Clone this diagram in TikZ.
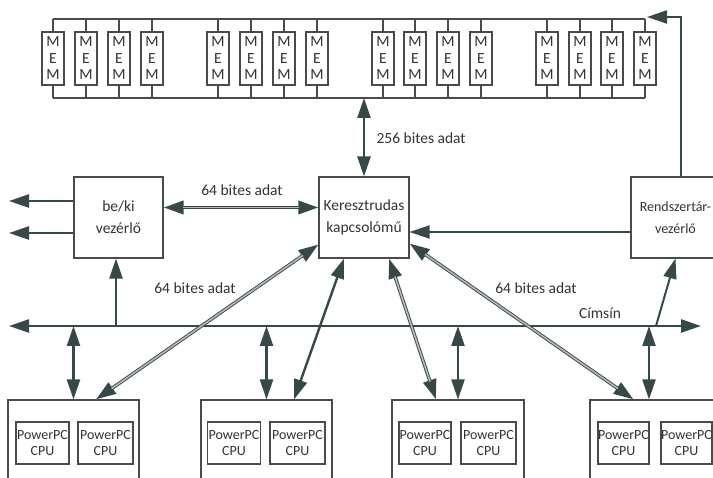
\documentclass[tikz,border=0pt]{standalone}
\usepackage{fontspec}
\setmainfont{Carlito}
\usetikzlibrary{arrows.meta,calc}
\definecolor{boxc}{HTML}{4A4A4A}
\definecolor{arrc}{HTML}{374849}
\definecolor{shaftg}{HTML}{B8B8B8}
\definecolor{txtc}{HTML}{333333}
\tikzset{
 box/.style={draw=boxc, line width=1.1pt, inner sep=0pt, text=txtc},
 bigbox/.style={box, minimum width=90pt, minimum height=81pt, align=center, font=\fontsize{15.5}{22}\selectfont},
 membox/.style={box, minimum width=22pt, minimum height=53pt, align=center, font=\fontsize{15.5}{16.5}\selectfont},
 cpubox/.style={box, minimum width=53pt, minimum height=42pt, align=center, font=\fontsize{14}{15.5}\selectfont},
 procbox/.style={box, minimum width=131pt, minimum height=100pt},
 bus/.style={draw=boxc, line width=1.3pt},
 arr/.style={draw=arrc, line width=2.4pt, arrows={-Triangle[length=20pt,width=13pt]}},
 darr/.style={draw=arrc, line width=2.4pt, arrows={Triangle[length=20pt,width=13pt]-Triangle[length=20pt,width=13pt]}},
 gshaft/.style={draw=shaftg, line width=1.6pt, shorten <=19pt, shorten >=19pt},
 lbl/.style={font=\fontsize{15.5}{17}\selectfont, text=txtc},
}
\begin{document}
\begin{tikzpicture}[x=1pt,y=-1pt]
\useasboundingbox (0,0) rectangle (713,478);
\clip (0,0) rectangle (713,478);
\fill[white] (0,0) rectangle (713,478);

% memory banks
\foreach \i/\x in {1/53,2/86,3/119,4/152,5/218,6/251,7/284,8/317,9/383,10/415,11/448,12/481,13/547,14/580,15/612,16/645}
  \node[membox] (m\i) at (\x,58.5) {M\\E\\M};
\coordinate (tl) at (53,19);
\coordinate (tr) at (645,19);
\coordinate (bl) at (53,98);
\coordinate (br) at (645,98);
\draw[bus] (tl) -- (tr);
\draw[bus] (bl) -- (br);
\foreach \i in {1,...,16} {
  \draw[bus] (m\i.north) -- (m\i.north |- tl);
  \draw[bus] (m\i.south) -- (m\i.south |- bl);
}

% main boxes
\node[bigbox, minimum width=89pt] (bk) at (118.5,217.5) {be/ki\\vezérlő};
\node[bigbox] (kr) at (364,217.5) {Keresztrudas\\kapcsolómű};
\node[bigbox, minimum width=89pt, font=\fontsize{14}{22}\selectfont] (rv) at (675.5,217.5) {Rendszertár-\\vezérlő};

% processor boards
\node[procbox] (p1) at (73.5,450) {};
\node[procbox] (p2) at (266.5,450) {};
\node[procbox, minimum width=132pt] (p3) at (458,450) {};
\node[procbox] (p4) at (655.5,450) {};
\node[cpubox] (c11) at (42.5,443) {PowerPC\\CPU};
\node[cpubox, minimum width=55pt] (c12) at (105.5,443) {PowerPC\\CPU};
\node[cpubox] (c21) at (234,443) {PowerPC\\CPU};
\node[cpubox, minimum width=55pt] (c22) at (297.5,443) {PowerPC\\CPU};
\node[cpubox, minimum width=52pt] (c31) at (425,443) {PowerPC\\CPU};
\node[cpubox, minimum width=55pt] (c32) at (488.5,443) {PowerPC\\CPU};
\node[cpubox, minimum width=51pt] (c41) at (623.5,443) {PowerPC\\CPU};
\node[cpubox, minimum width=51pt] (c42) at (686.5,443) {PowerPC\\CPU};

% memory controller to memory
\coordinate (mt) at (647,17);
\draw[arr, line width=2pt] ([xshift=5.5pt]rv.north) |- (mt);

% 256-bit path
\draw[darr, line width=2.6pt] (kr.north) -- (kr.north |- bl);
\node[lbl, anchor=west] (l256) at (373,138) {256 bites adat};

% be/ki outputs
\coordinate (o1) at (9,201);
\coordinate (o2) at (9,233);
\draw[arr] (o1 -| bk.west) -- (o1);
\draw[arr] (o2 -| bk.west) -- (o2);

% be/ki <-> crossbar
\draw[darr, line width=3.4pt] ([yshift=10pt]bk.east) -- ([yshift=10pt]kr.west);
\draw[gshaft] ([yshift=10pt]bk.east) -- ([yshift=10pt]kr.west);
\node[lbl] (l64a) at (242,190) {64 bites adat};

% memory controller -> crossbar
\draw[arr, line width=2pt] ([yshift=-14.5pt]rv.west) -- ([yshift=-14.5pt]kr.east);

% address bus
\coordinate (busL) at (9,326);
\coordinate (busR) at (701,326);
\draw[darr] (busL) -- (busR);
\node[lbl] (lcim) at (600,313) {Címsín};

\coordinate (bkb) at (116,326);
\draw[arr, line width=2pt] (bkb) -- (bkb |- bk.south);
\coordinate (rvb) at (656,326);
\draw[arr, line width=2pt] (rvb) -- (rv.south);

% bus <-> processor boards
\coordinate (p4t) at ([xshift=-6.5pt]p4.north);
\draw[darr] (p1.north |- busL) -- (p1.north);
\draw[darr] (p2.north |- busL) -- (p2.north);
\draw[darr] (p3.north |- busL) -- (p3.north);
\draw[darr] (p4t |- busL) -- (p4t);

% crossbar <-> processor boards
\coordinate (a1) at ([yshift=-27pt]kr.west);
\coordinate (b1) at ([xshift=22.5pt]p1.north);
\coordinate (a2) at ([xshift=-20pt]kr.south);
\coordinate (b2) at ([xshift=27.5pt]p2.north);
\coordinate (a3) at ([xshift=25pt]kr.south);
\coordinate (b3) at ([xshift=-22pt]p3.north);
\coordinate (a4) at ([yshift=-26pt]kr.east);
\coordinate (b4) at ([xshift=-22pt]p4.north);

\draw[darr, line width=3.4pt] (a1) -- (b1);
\draw[gshaft] (a1) -- (b1);
\draw[darr, line width=2.4pt] (a2) -- (b2);
\draw[darr, line width=3.4pt] (a3) -- (b3);
\draw[gshaft] (a3) -- (b3);
\draw[darr, line width=3.4pt] (a4) -- (b4);
\draw[gshaft] (a4) -- (b4);

\node[lbl] (l64b) at (195,288) {64 bites adat};
\node[lbl] (l64c) at (536,288) {64 bites adat};
\end{tikzpicture}
\end{document}
